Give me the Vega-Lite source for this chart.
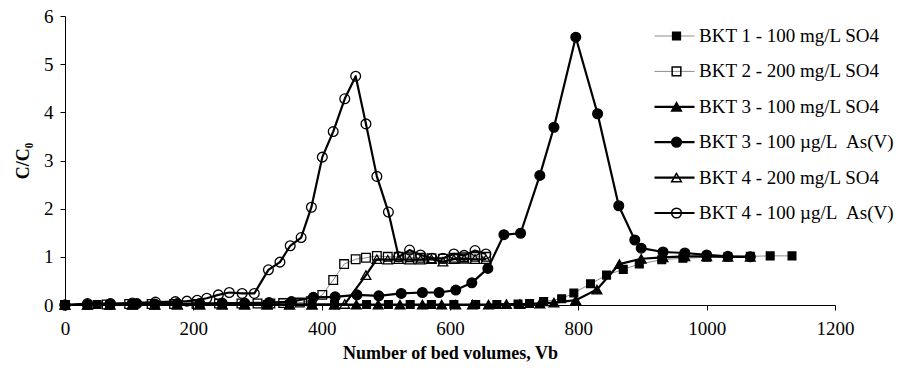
{
  "$schema": "https://vega.github.io/schema/vega-lite/v6.json",
  "width": 770,
  "height": 289,
  "autosize": {"type": "none"},
  "padding": {"left": 65, "top": 16, "right": 78, "bottom": 67},
  "background": "white",
  "config": {
    "view": {"stroke": null},
    "font": "Liberation Serif",
    "axis": {
      "grid": false,
      "domainColor": "black",
      "tickColor": "black",
      "labelColor": "black",
      "titleColor": "black",
      "labelFont": "Liberation Serif",
      "titleFont": "Liberation Serif",
      "labelFontSize": 19,
      "titleFontSize": 18,
      "titleFontWeight": "bold",
      "tickSize": 5,
      "labelFlush": false
    },
    "legend": {
      "labelFont": "Liberation Serif",
      "labelFontSize": 19,
      "labelColor": "black",
      "labelLimit": 400,
      "padding": 0,
      "offset": 0
    }
  },
  "data": {
    "values": [
      {"s": "BKT 1 - 100 mg/L SO4", "x": 0, "y": 0},
      {"s": "BKT 1 - 100 mg/L SO4", "x": 50, "y": 0.01},
      {"s": "BKT 1 - 100 mg/L SO4", "x": 70, "y": 0.01},
      {"s": "BKT 1 - 100 mg/L SO4", "x": 105, "y": 0.01},
      {"s": "BKT 1 - 100 mg/L SO4", "x": 140, "y": 0.01},
      {"s": "BKT 1 - 100 mg/L SO4", "x": 175, "y": 0.01},
      {"s": "BKT 1 - 100 mg/L SO4", "x": 210, "y": 0.01},
      {"s": "BKT 1 - 100 mg/L SO4", "x": 245, "y": 0.01},
      {"s": "BKT 1 - 100 mg/L SO4", "x": 280, "y": 0.01},
      {"s": "BKT 1 - 100 mg/L SO4", "x": 315, "y": 0.01},
      {"s": "BKT 1 - 100 mg/L SO4", "x": 350, "y": 0.01},
      {"s": "BKT 1 - 100 mg/L SO4", "x": 385, "y": 0.01},
      {"s": "BKT 1 - 100 mg/L SO4", "x": 420, "y": 0.01},
      {"s": "BKT 1 - 100 mg/L SO4", "x": 470, "y": 0.01},
      {"s": "BKT 1 - 100 mg/L SO4", "x": 504, "y": 0.01},
      {"s": "BKT 1 - 100 mg/L SO4", "x": 538, "y": 0.01},
      {"s": "BKT 1 - 100 mg/L SO4", "x": 571, "y": 0.01},
      {"s": "BKT 1 - 100 mg/L SO4", "x": 606, "y": 0.01},
      {"s": "BKT 1 - 100 mg/L SO4", "x": 640, "y": 0.01},
      {"s": "BKT 1 - 100 mg/L SO4", "x": 673, "y": 0.01},
      {"s": "BKT 1 - 100 mg/L SO4", "x": 706, "y": 0.02},
      {"s": "BKT 1 - 100 mg/L SO4", "x": 724, "y": 0.03},
      {"s": "BKT 1 - 100 mg/L SO4", "x": 746, "y": 0.07},
      {"s": "BKT 1 - 100 mg/L SO4", "x": 774, "y": 0.13},
      {"s": "BKT 1 - 100 mg/L SO4", "x": 793, "y": 0.25},
      {"s": "BKT 1 - 100 mg/L SO4", "x": 819, "y": 0.44},
      {"s": "BKT 1 - 100 mg/L SO4", "x": 844, "y": 0.62},
      {"s": "BKT 1 - 100 mg/L SO4", "x": 870, "y": 0.74},
      {"s": "BKT 1 - 100 mg/L SO4", "x": 895, "y": 0.85},
      {"s": "BKT 1 - 100 mg/L SO4", "x": 930, "y": 0.94},
      {"s": "BKT 1 - 100 mg/L SO4", "x": 963, "y": 0.97},
      {"s": "BKT 1 - 100 mg/L SO4", "x": 1000, "y": 0.99},
      {"s": "BKT 1 - 100 mg/L SO4", "x": 1033, "y": 1.0},
      {"s": "BKT 1 - 100 mg/L SO4", "x": 1068, "y": 1.01},
      {"s": "BKT 1 - 100 mg/L SO4", "x": 1099, "y": 1.02},
      {"s": "BKT 1 - 100 mg/L SO4", "x": 1133, "y": 1.02},

      {"s": "BKT 2 - 200 mg/L SO4", "x": 0, "y": 0},
      {"s": "BKT 2 - 200 mg/L SO4", "x": 65, "y": 0.01},
      {"s": "BKT 2 - 200 mg/L SO4", "x": 100, "y": 0.02},
      {"s": "BKT 2 - 200 mg/L SO4", "x": 135, "y": 0.02},
      {"s": "BKT 2 - 200 mg/L SO4", "x": 170, "y": 0.02},
      {"s": "BKT 2 - 200 mg/L SO4", "x": 205, "y": 0.02},
      {"s": "BKT 2 - 200 mg/L SO4", "x": 240, "y": 0.03},
      {"s": "BKT 2 - 200 mg/L SO4", "x": 275, "y": 0.03},
      {"s": "BKT 2 - 200 mg/L SO4", "x": 300, "y": 0.03},
      {"s": "BKT 2 - 200 mg/L SO4", "x": 320, "y": 0.03},
      {"s": "BKT 2 - 200 mg/L SO4", "x": 340, "y": 0.04},
      {"s": "BKT 2 - 200 mg/L SO4", "x": 366, "y": 0.05},
      {"s": "BKT 2 - 200 mg/L SO4", "x": 383, "y": 0.08},
      {"s": "BKT 2 - 200 mg/L SO4", "x": 401, "y": 0.21},
      {"s": "BKT 2 - 200 mg/L SO4", "x": 418, "y": 0.52},
      {"s": "BKT 2 - 200 mg/L SO4", "x": 435, "y": 0.85},
      {"s": "BKT 2 - 200 mg/L SO4", "x": 453, "y": 0.95},
      {"s": "BKT 2 - 200 mg/L SO4", "x": 469, "y": 0.98},
      {"s": "BKT 2 - 200 mg/L SO4", "x": 486, "y": 1.02},
      {"s": "BKT 2 - 200 mg/L SO4", "x": 503, "y": 1.0},
      {"s": "BKT 2 - 200 mg/L SO4", "x": 520, "y": 1.0},
      {"s": "BKT 2 - 200 mg/L SO4", "x": 537, "y": 0.99},
      {"s": "BKT 2 - 200 mg/L SO4", "x": 554, "y": 0.98},
      {"s": "BKT 2 - 200 mg/L SO4", "x": 571, "y": 0.97},
      {"s": "BKT 2 - 200 mg/L SO4", "x": 589, "y": 0.96},
      {"s": "BKT 2 - 200 mg/L SO4", "x": 606, "y": 0.98},
      {"s": "BKT 2 - 200 mg/L SO4", "x": 622, "y": 0.99},
      {"s": "BKT 2 - 200 mg/L SO4", "x": 639, "y": 1.0},
      {"s": "BKT 2 - 200 mg/L SO4", "x": 656, "y": 1.0},

      {"s": "BKT 3 - 100 mg/L SO4", "x": 0, "y": 0},
      {"s": "BKT 3 - 100 mg/L SO4", "x": 35, "y": 0},
      {"s": "BKT 3 - 100 mg/L SO4", "x": 70, "y": 0},
      {"s": "BKT 3 - 100 mg/L SO4", "x": 105, "y": 0},
      {"s": "BKT 3 - 100 mg/L SO4", "x": 140, "y": 0},
      {"s": "BKT 3 - 100 mg/L SO4", "x": 175, "y": 0.01},
      {"s": "BKT 3 - 100 mg/L SO4", "x": 210, "y": 0.01},
      {"s": "BKT 3 - 100 mg/L SO4", "x": 245, "y": 0.01},
      {"s": "BKT 3 - 100 mg/L SO4", "x": 280, "y": 0.01},
      {"s": "BKT 3 - 100 mg/L SO4", "x": 315, "y": 0.01},
      {"s": "BKT 3 - 100 mg/L SO4", "x": 350, "y": 0.01},
      {"s": "BKT 3 - 100 mg/L SO4", "x": 385, "y": 0.01},
      {"s": "BKT 3 - 100 mg/L SO4", "x": 420, "y": 0.01},
      {"s": "BKT 3 - 100 mg/L SO4", "x": 454, "y": 0.01},
      {"s": "BKT 3 - 100 mg/L SO4", "x": 488, "y": 0.01},
      {"s": "BKT 3 - 100 mg/L SO4", "x": 522, "y": 0.01},
      {"s": "BKT 3 - 100 mg/L SO4", "x": 557, "y": 0.01},
      {"s": "BKT 3 - 100 mg/L SO4", "x": 587, "y": 0.01},
      {"s": "BKT 3 - 100 mg/L SO4", "x": 609, "y": 0.01},
      {"s": "BKT 3 - 100 mg/L SO4", "x": 635, "y": 0.01},
      {"s": "BKT 3 - 100 mg/L SO4", "x": 660, "y": 0.01},
      {"s": "BKT 3 - 100 mg/L SO4", "x": 688, "y": 0.02},
      {"s": "BKT 3 - 100 mg/L SO4", "x": 709, "y": 0.02},
      {"s": "BKT 3 - 100 mg/L SO4", "x": 740, "y": 0.03},
      {"s": "BKT 3 - 100 mg/L SO4", "x": 762, "y": 0.05},
      {"s": "BKT 3 - 100 mg/L SO4", "x": 796, "y": 0.1},
      {"s": "BKT 3 - 100 mg/L SO4", "x": 829, "y": 0.32},
      {"s": "BKT 3 - 100 mg/L SO4", "x": 864, "y": 0.85},
      {"s": "BKT 3 - 100 mg/L SO4", "x": 898, "y": 0.96},
      {"s": "BKT 3 - 100 mg/L SO4", "x": 932, "y": 0.99},
      {"s": "BKT 3 - 100 mg/L SO4", "x": 966, "y": 1.01},
      {"s": "BKT 3 - 100 mg/L SO4", "x": 1000, "y": 1.01},
      {"s": "BKT 3 - 100 mg/L SO4", "x": 1033, "y": 1.0},
      {"s": "BKT 3 - 100 mg/L SO4", "x": 1068, "y": 1.0},

      {"s": "BKT 3 - 100 µg/L  As(V)", "x": 0, "y": 0},
      {"s": "BKT 3 - 100 µg/L  As(V)", "x": 35, "y": 0.01},
      {"s": "BKT 3 - 100 µg/L  As(V)", "x": 70, "y": 0.02},
      {"s": "BKT 3 - 100 µg/L  As(V)", "x": 112, "y": 0.03},
      {"s": "BKT 3 - 100 µg/L  As(V)", "x": 140, "y": 0.02},
      {"s": "BKT 3 - 100 µg/L  As(V)", "x": 175, "y": 0.03},
      {"s": "BKT 3 - 100 µg/L  As(V)", "x": 210, "y": 0.03},
      {"s": "BKT 3 - 100 µg/L  As(V)", "x": 245, "y": 0.04},
      {"s": "BKT 3 - 100 µg/L  As(V)", "x": 280, "y": 0.04},
      {"s": "BKT 3 - 100 µg/L  As(V)", "x": 318, "y": 0.05},
      {"s": "BKT 3 - 100 µg/L  As(V)", "x": 353, "y": 0.07},
      {"s": "BKT 3 - 100 µg/L  As(V)", "x": 387, "y": 0.16},
      {"s": "BKT 3 - 100 µg/L  As(V)", "x": 421, "y": 0.17},
      {"s": "BKT 3 - 100 µg/L  As(V)", "x": 455, "y": 0.21},
      {"s": "BKT 3 - 100 µg/L  As(V)", "x": 489, "y": 0.19},
      {"s": "BKT 3 - 100 µg/L  As(V)", "x": 524, "y": 0.24},
      {"s": "BKT 3 - 100 µg/L  As(V)", "x": 557, "y": 0.26},
      {"s": "BKT 3 - 100 µg/L  As(V)", "x": 583, "y": 0.26},
      {"s": "BKT 3 - 100 µg/L  As(V)", "x": 609, "y": 0.31},
      {"s": "BKT 3 - 100 µg/L  As(V)", "x": 634, "y": 0.46},
      {"s": "BKT 3 - 100 µg/L  As(V)", "x": 659, "y": 0.76},
      {"s": "BKT 3 - 100 µg/L  As(V)", "x": 684, "y": 1.46},
      {"s": "BKT 3 - 100 µg/L  As(V)", "x": 710, "y": 1.49},
      {"s": "BKT 3 - 100 µg/L  As(V)", "x": 740, "y": 2.69},
      {"s": "BKT 3 - 100 µg/L  As(V)", "x": 762, "y": 3.69},
      {"s": "BKT 3 - 100 µg/L  As(V)", "x": 796, "y": 5.56},
      {"s": "BKT 3 - 100 µg/L  As(V)", "x": 830, "y": 3.97},
      {"s": "BKT 3 - 100 µg/L  As(V)", "x": 863, "y": 2.06},
      {"s": "BKT 3 - 100 µg/L  As(V)", "x": 888, "y": 1.35},
      {"s": "BKT 3 - 100 µg/L  As(V)", "x": 898, "y": 1.18},
      {"s": "BKT 3 - 100 µg/L  As(V)", "x": 932, "y": 1.1},
      {"s": "BKT 3 - 100 µg/L  As(V)", "x": 966, "y": 1.08},
      {"s": "BKT 3 - 100 µg/L  As(V)", "x": 1000, "y": 1.04},
      {"s": "BKT 3 - 100 µg/L  As(V)", "x": 1033, "y": 1.01},
      {"s": "BKT 3 - 100 µg/L  As(V)", "x": 1068, "y": 1.0},

      {"s": "BKT 4 - 200 mg/L SO4", "x": 0, "y": 0},
      {"s": "BKT 4 - 200 mg/L SO4", "x": 35, "y": 0.01},
      {"s": "BKT 4 - 200 mg/L SO4", "x": 70, "y": 0.01},
      {"s": "BKT 4 - 200 mg/L SO4", "x": 105, "y": 0.01},
      {"s": "BKT 4 - 200 mg/L SO4", "x": 140, "y": 0.01},
      {"s": "BKT 4 - 200 mg/L SO4", "x": 175, "y": 0.01},
      {"s": "BKT 4 - 200 mg/L SO4", "x": 210, "y": 0.01},
      {"s": "BKT 4 - 200 mg/L SO4", "x": 245, "y": 0.01},
      {"s": "BKT 4 - 200 mg/L SO4", "x": 280, "y": 0.01},
      {"s": "BKT 4 - 200 mg/L SO4", "x": 315, "y": 0.01},
      {"s": "BKT 4 - 200 mg/L SO4", "x": 350, "y": 0.01},
      {"s": "BKT 4 - 200 mg/L SO4", "x": 385, "y": 0.01},
      {"s": "BKT 4 - 200 mg/L SO4", "x": 420, "y": 0.01},
      {"s": "BKT 4 - 200 mg/L SO4", "x": 436, "y": 0.02},
      {"s": "BKT 4 - 200 mg/L SO4", "x": 469, "y": 0.62},
      {"s": "BKT 4 - 200 mg/L SO4", "x": 486, "y": 0.95},
      {"s": "BKT 4 - 200 mg/L SO4", "x": 503, "y": 0.94},
      {"s": "BKT 4 - 200 mg/L SO4", "x": 520, "y": 0.95},
      {"s": "BKT 4 - 200 mg/L SO4", "x": 537, "y": 0.94},
      {"s": "BKT 4 - 200 mg/L SO4", "x": 554, "y": 0.94},
      {"s": "BKT 4 - 200 mg/L SO4", "x": 571, "y": 0.95},
      {"s": "BKT 4 - 200 mg/L SO4", "x": 589, "y": 0.9},
      {"s": "BKT 4 - 200 mg/L SO4", "x": 606, "y": 0.95},
      {"s": "BKT 4 - 200 mg/L SO4", "x": 622, "y": 0.96},
      {"s": "BKT 4 - 200 mg/L SO4", "x": 639, "y": 0.95},
      {"s": "BKT 4 - 200 mg/L SO4", "x": 656, "y": 0.95},

      {"s": "BKT 4 - 100 µg/L  As(V)", "x": 0, "y": 0},
      {"s": "BKT 4 - 100 µg/L  As(V)", "x": 35, "y": 0.03},
      {"s": "BKT 4 - 100 µg/L  As(V)", "x": 71, "y": 0.03},
      {"s": "BKT 4 - 100 µg/L  As(V)", "x": 105, "y": 0.04},
      {"s": "BKT 4 - 100 µg/L  As(V)", "x": 141, "y": 0.06},
      {"s": "BKT 4 - 100 µg/L  As(V)", "x": 172, "y": 0.07},
      {"s": "BKT 4 - 100 µg/L  As(V)", "x": 190, "y": 0.08},
      {"s": "BKT 4 - 100 µg/L  As(V)", "x": 206, "y": 0.1},
      {"s": "BKT 4 - 100 µg/L  As(V)", "x": 221, "y": 0.14},
      {"s": "BKT 4 - 100 µg/L  As(V)", "x": 239, "y": 0.21},
      {"s": "BKT 4 - 100 µg/L  As(V)", "x": 256, "y": 0.26},
      {"s": "BKT 4 - 100 µg/L  As(V)", "x": 276, "y": 0.24},
      {"s": "BKT 4 - 100 µg/L  As(V)", "x": 295, "y": 0.24},
      {"s": "BKT 4 - 100 µg/L  As(V)", "x": 317, "y": 0.73},
      {"s": "BKT 4 - 100 µg/L  As(V)", "x": 335, "y": 0.89},
      {"s": "BKT 4 - 100 µg/L  As(V)", "x": 351, "y": 1.23},
      {"s": "BKT 4 - 100 µg/L  As(V)", "x": 368, "y": 1.4},
      {"s": "BKT 4 - 100 µg/L  As(V)", "x": 384, "y": 2.03},
      {"s": "BKT 4 - 100 µg/L  As(V)", "x": 401, "y": 3.07},
      {"s": "BKT 4 - 100 µg/L  As(V)", "x": 418, "y": 3.6},
      {"s": "BKT 4 - 100 µg/L  As(V)", "x": 436, "y": 4.28},
      {"s": "BKT 4 - 100 µg/L  As(V)", "x": 453, "y": 4.75},
      {"s": "BKT 4 - 100 µg/L  As(V)", "x": 469, "y": 3.76},
      {"s": "BKT 4 - 100 µg/L  As(V)", "x": 486, "y": 2.67},
      {"s": "BKT 4 - 100 µg/L  As(V)", "x": 504, "y": 1.93},
      {"s": "BKT 4 - 100 µg/L  As(V)", "x": 520, "y": 1.0},
      {"s": "BKT 4 - 100 µg/L  As(V)", "x": 537, "y": 1.14},
      {"s": "BKT 4 - 100 µg/L  As(V)", "x": 554, "y": 1.04},
      {"s": "BKT 4 - 100 µg/L  As(V)", "x": 572, "y": 0.97},
      {"s": "BKT 4 - 100 µg/L  As(V)", "x": 589, "y": 0.97},
      {"s": "BKT 4 - 100 µg/L  As(V)", "x": 606, "y": 1.06},
      {"s": "BKT 4 - 100 µg/L  As(V)", "x": 622, "y": 1.03},
      {"s": "BKT 4 - 100 µg/L  As(V)", "x": 639, "y": 1.13},
      {"s": "BKT 4 - 100 µg/L  As(V)", "x": 656, "y": 1.06}
    ]
  },
  "encoding": {
    "x": {
      "field": "x",
      "type": "quantitative",
      "scale": {"domain": [0, 1200], "nice": false},
      "axis": {
        "values": [0, 200, 400, 600, 800, 1000, 1200],
        "format": "d",
        "title": "Number of bed volumes, Vb",
        "labelPadding": 9,
        "titlePadding": 6
      }
    },
    "y": {
      "field": "y",
      "type": "quantitative",
      "scale": {"domain": [0, 6], "nice": false},
      "axis": {
        "values": [0, 1, 2, 3, 4, 5, 6],
        "format": "d",
        "title": "C/C₀",
        "labelPadding": 7,
        "titlePadding": 11
      }
    }
  },
  "layer": [
    {
      "mark": {"type": "line", "strokeJoin": "round"},
      "encoding": {
        "stroke": {
          "field": "s",
          "type": "nominal",
          "scale": {"range": ["#8c8c8c", "#8c8c8c", "black", "black", "black", "black"]},
          "legend": {
            "title": null,
            "orient": "none",
            "legendX": 588,
            "legendY": 9,
            "symbolType": "stroke",
            "symbolSize": 1600,
            "clipHeight": 22,
            "rowPadding": 13.4,
            "labelOffset": 3,
            "labelExpr": "replace(datum.label, 'L  As', 'L \u00a0As')",
            "values": ["BKT 1 - 100 mg/L SO4", "BKT 2 - 200 mg/L SO4", "BKT 3 - 100 mg/L SO4", "BKT 3 - 100 µg/L  As(V)", "BKT 4 - 200 mg/L SO4", "BKT 4 - 100 µg/L  As(V)"]
          }
        },
        "strokeWidth": {
          "field": "s",
          "type": "nominal",
          "scale": {"type": "ordinal", "range": [1, 1, 2.2, 2.2, 2.2, 2.2]},
          "legend": null
        }
      }
    },
    {
      "mark": {"type": "point", "filled": true, "opacity": 1, "stroke": "black", "strokeWidth": 1.3},
      "encoding": {
        "shape": {
          "field": "s",
          "type": "nominal",
          "scale": {
            "domain": ["BKT 1 - 100 mg/L SO4", "BKT 2 - 200 mg/L SO4", "BKT 3 - 100 mg/L SO4", "BKT 3 - 100 µg/L  As(V)", "BKT 4 - 200 mg/L SO4", "BKT 4 - 100 µg/L  As(V)"],
            "range": ["square", "square", "triangle-up", "circle", "triangle-up", "circle"]
          },
          "legend": {
            "title": null,
            "orient": "none",
            "legendX": 602,
            "legendY": 9,
            "clipHeight": 22,
            "rowPadding": 13.4,
            "labelExpr": "''",
            "encode": {
              "symbols": {
                "update": {
                  "stroke": {"value": "black"},
                  "strokeWidth": {"value": 1.3},
                  "opacity": {"value": 1}
                }
              }
            }
          }
        },
        "fill": {
          "field": "s",
          "type": "nominal",
          "scale": {
            "domain": ["BKT 1 - 100 mg/L SO4", "BKT 2 - 200 mg/L SO4", "BKT 3 - 100 mg/L SO4", "BKT 3 - 100 µg/L  As(V)", "BKT 4 - 200 mg/L SO4", "BKT 4 - 100 µg/L  As(V)"],
            "range": ["black", "transparent", "black", "black", "transparent", "transparent"]
          },
          "legend": {
            "title": null,
            "orient": "none",
            "legendX": 602,
            "legendY": 9,
            "clipHeight": 22,
            "rowPadding": 13.4,
            "labelExpr": "''",
            "encode": {
              "symbols": {
                "update": {
                  "stroke": {"value": "black"},
                  "strokeWidth": {"value": 1.3},
                  "opacity": {"value": 1}
                }
              }
            }
          }
        },
        "size": {
          "field": "s",
          "type": "nominal",
          "scale": {
            "type": "ordinal",
            "domain": ["BKT 1 - 100 mg/L SO4", "BKT 2 - 200 mg/L SO4", "BKT 3 - 100 mg/L SO4", "BKT 3 - 100 µg/L  As(V)", "BKT 4 - 200 mg/L SO4", "BKT 4 - 100 µg/L  As(V)"],
            "range": [60, 75, 95, 95, 95, 95]
          },
          "legend": {
            "title": null,
            "orient": "none",
            "legendX": 602,
            "legendY": 9,
            "clipHeight": 22,
            "rowPadding": 13.4,
            "labelExpr": "''",
            "encode": {
              "symbols": {
                "update": {
                  "stroke": {"value": "black"},
                  "strokeWidth": {"value": 1.3},
                  "opacity": {"value": 1}
                }
              }
            }
          }
        }
      }
    }
  ]
}
